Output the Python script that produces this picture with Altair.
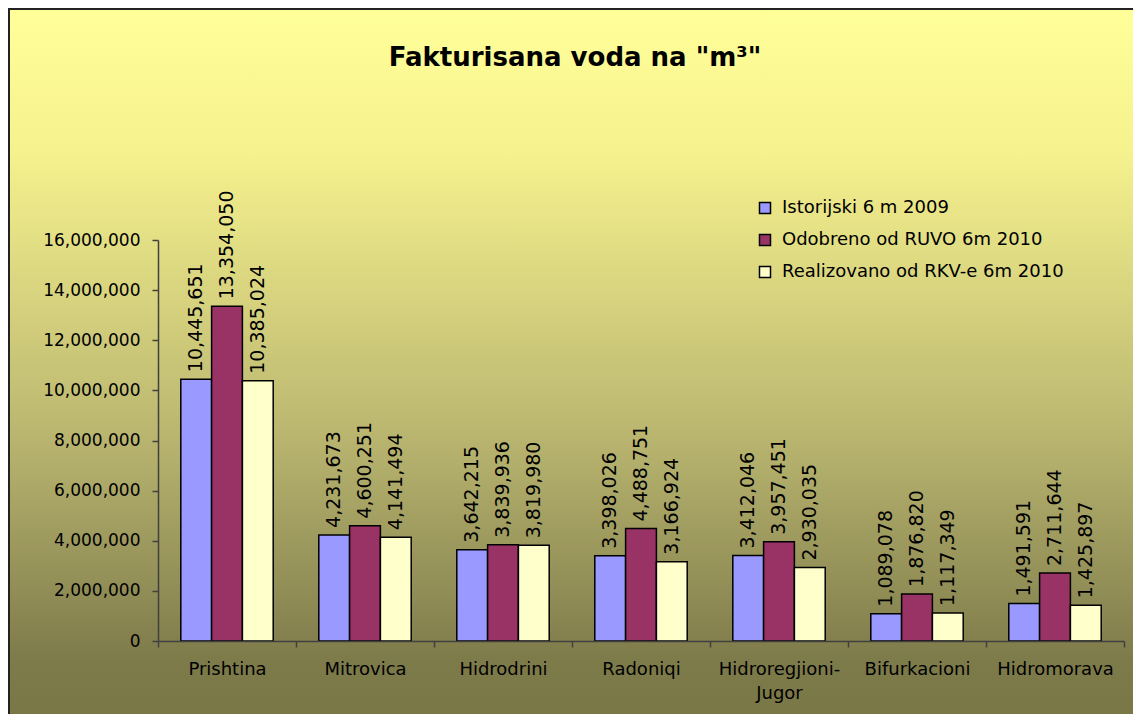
import altair as alt
import pandas as pd

categories = ["Prishtina", "Mitrovica", "Hidrodrini", "Radoniqi",
              "Hidroregjioni-Jugor", "Bifurkacioni", "Hidromorava"]
series = ["Istorijski 6 m 2009", "Odobreno od RUVO 6m 2010", "Realizovano od RKV-e 6m 2010"]
colors = ["#9999FF", "#993366", "#FFFFCC"]
istorijski = [10445651, 4231673, 3642215, 3398026, 3412046, 1089078, 1491591]
odobreno = [13354050, 4600251, 3839936, 4488751, 3957451, 1876820, 2711644]
realizovano = [10385024, 4141494, 3819980, 3166924, 2930035, 1117349, 1425897]
y_ticks = [0, 2000000, 4000000, 6000000, 8000000, 10000000, 12000000, 14000000, 16000000]
title_text = "Fakturisana voda na \"m\u00b3\""

rows = []
for name, vals in zip(series, [istorijski, odobreno, realizovano]):
    for c, v in zip(categories, vals):
        rows.append({"cat": c, "series": name, "value": v})
df = pd.DataFrame(rows)
one = pd.DataFrame({"t": [title_text]})

W, H = 966, 401
PL, PT, PR, PB = 150, 232, 9, 73
FONT = "DejaVu Sans"

bg = alt.Chart(one).mark_rect(
    color=alt.LinearGradient(
        gradient="linear",
        stops=[
            alt.GradientStop(color="#FFFF99", offset=0),
            alt.GradientStop(color="#F6F28E", offset=0.2),
            alt.GradientStop(color="#BAB670", offset=0.6),
            alt.GradientStop(color="#7E7B4B", offset=0.92),
            alt.GradientStop(color="#7A7747", offset=1),
        ],
        x1=0, x2=0, y1=0, y2=1,
    ),
    stroke="#222222", strokeWidth=2,
).encode(
    x=alt.value(-PL + 1), x2=alt.value(W + PR + 2),
    y=alt.value(-PT + 1), y2=alt.value(H + PB + 2),
)

title = alt.Chart(one).mark_text(
    font=FONT, fontSize=26, fontWeight="bold", color="black",
    align="center", baseline="middle",
).encode(
    x=alt.value(417), y=alt.value(-182), text="t:N"
)

xenc = alt.X(
    "cat:N", sort=categories, title=None,
    scale=alt.Scale(paddingInner=0, paddingOuter=0),
    axis=alt.Axis(
        labelAngle=0, labelFont=FONT, labelFontSize=18, labelColor="black",
        labelPadding=13, labelBaseline="top", labelLineHeight=24,
        labelExpr="datum.label == 'Hidroregjioni-Jugor' ? ['Hidroregjioni-', 'Jugor'] : datum.label",
        tickBand="extent", tickSize=6, tickColor="#404040", domainColor="#404040",
        domainWidth=1.5, tickWidth=1.5, grid=False, zindex=1, labelLimit=0,
    ),
)
xoff = alt.XOffset("series:N", sort=series,
                   scale=alt.Scale(paddingOuter=0.74, paddingInner=0))
yenc = alt.Y(
    "value:Q", title=None,
    scale=alt.Scale(domain=[0, 16000000], nice=False),
    axis=alt.Axis(
        values=y_ticks, format=",d", labelFont=FONT, labelFontSize=17,
        labelColor="black", labelPadding=12, tickSize=6, tickColor="#404040",
        domainColor="#404040", domainWidth=1.5, tickWidth=1.5, grid=False, zindex=1,
    ),
)

bars = alt.Chart(df).mark_bar(stroke="black", strokeWidth=1.5).encode(
    x=xenc, xOffset=xoff, y=yenc,
    color=alt.Color(
        "series:N", sort=series,
        scale=alt.Scale(domain=series, range=colors),
        legend=alt.Legend(
            title=None, orient="none", legendX=598, legendY=-41,
            symbolType="square", symbolSize=121, symbolStrokeColor="black",
            symbolStrokeWidth=1.5, labelFont=FONT, labelFontSize=18,
            labelColor="black", rowPadding=14, labelOffset=8, padding=0,
            labelLimit=0,
        ),
    ),
)

labels = alt.Chart(df).mark_text(
    angle=270, align="left", baseline="middle", dx=7,
    font=FONT, fontSize=19, color="black",
).encode(
    x=alt.X("cat:N", sort=categories), xOffset=alt.XOffset("series:N", sort=series),
    y="value:Q", text=alt.Text("value:Q", format=",d"),
)

chart = alt.layer(bg, bars, labels, title).properties(
    width=W, height=H,
    autosize=alt.AutoSizeParams(type="none"),
    padding={"left": PL, "top": PT, "right": PR, "bottom": PB},
    background="white",
).configure_view(stroke=None)

chart.save("out.html", embed_options={"renderer": "svg", "actions": False})
